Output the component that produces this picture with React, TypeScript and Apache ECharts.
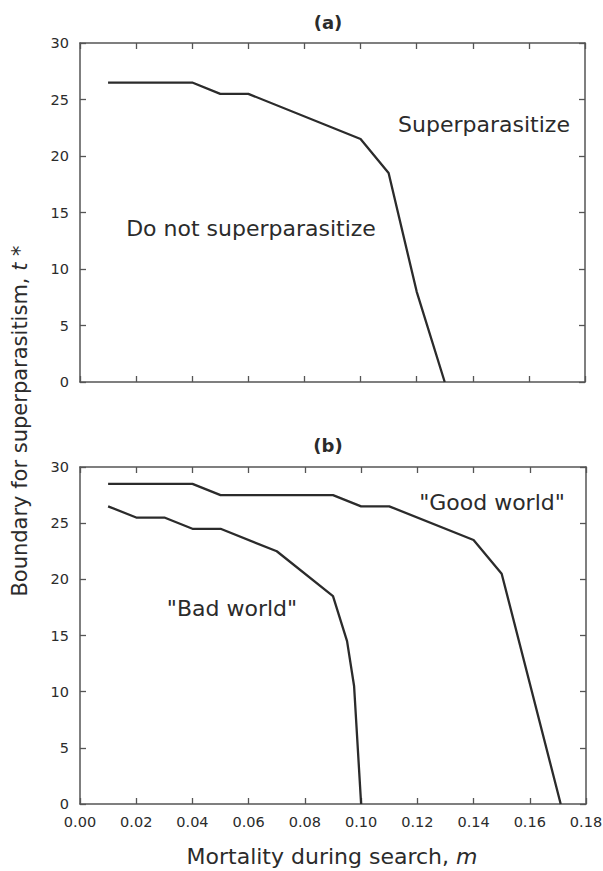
import React, { useEffect, useRef } from "react";
import * as echarts from "echarts";

// Panel (a)
const mortalityA = [0.01, 0.04, 0.05, 0.06, 0.10, 0.11, 0.12, 0.13];
const boundaryA = [26.5, 26.5, 25.5, 25.5, 21.5, 18.5, 8, 0];

// Panel (b)
const mortalityGood = [0.01, 0.04, 0.05, 0.09, 0.10, 0.11, 0.14, 0.15, 0.171];
const boundaryGood = [28.5, 28.5, 27.5, 27.5, 26.5, 26.5, 23.5, 20.5, 0];
const mortalityBad = [0.01, 0.02, 0.03, 0.04, 0.05, 0.07, 0.09, 0.095, 0.0975, 0.10];
const boundaryBad = [26.5, 25.5, 25.5, 24.5, 24.5, 22.5, 18.5, 14.5, 10.5, 0];

const xMin = 0;
const xMax = 0.18;
const xStep = 0.02;
const yMin = 0;
const yMax = 30;
const yStep = 5;

const panelTitles = ["(a)", "(b)"];
const xTitle = "Mortality during search, ";
const xTitleItalic = "m";
const yTitle = "Boundary for superparasitism, ";
const yTitleItalic = "t";
const yTitleTail = " *";
const annotationsA = ["Superparasitize", "Do not superparasitize"];
const annotationsB = ['"Good world"', '"Bad world"'];

const FONT = "DejaVu Sans";
const INK = "#2b2b2b";
const AXIS = "#555";

const zip = (xs: number[], ys: number[]) => xs.map((x, i) => [x, ys[i]]);

export default function App() {
  const ref = useRef<HTMLDivElement>(null);
  useEffect(() => {
    if (!ref.current) return;
    const chart = echarts.init(ref.current, null, { renderer: "svg" });
    const axisLine = () => ({ show: true, onZero: false, lineStyle: { color: AXIS, width: 1.5 } });
    const tick = () => ({ show: true, inside: false, length: -6, lineStyle: { color: AXIS, width: 1.3 } });
    const xAx = (grid: number, pos: string, labels: boolean) => ({
      gridIndex: grid,
      type: "value",
      position: pos,
      min: xMin,
      max: xMax,
      interval: xStep,
      axisLine: axisLine(),
      axisTick: tick(),
      splitLine: { show: false },
      axisLabel: {
        show: labels,
        margin: 10,
        color: INK,
        fontFamily: FONT,
        fontSize: 14.5,
        formatter: (v: number) => v.toFixed(2),
      },
    });
    const yAx = (grid: number, pos: string, labels: boolean) => ({
      gridIndex: grid,
      type: "value",
      position: pos,
      min: yMin,
      max: yMax,
      interval: yStep,
      axisLine: axisLine(),
      axisTick: tick(),
      splitLine: { show: false },
      axisLabel: {
        show: labels,
        margin: 11,
        color: INK,
        fontFamily: FONT,
        fontSize: 14.5,
      },
    });
    const annText = (text: string, x: number, y: number) => ({
      type: "text",
      x,
      y,
      style: {
        text,
        fill: INK,
        font: `22px "${FONT}"`,
        align: "center",
        verticalAlign: "middle",
      },
    });
    chart.setOption({
      animation: false,
      backgroundColor: "#fff",
      grid: [
        { left: 80, top: 43, width: 505, height: 339, containLabel: false, outerBoundsMode: "none" },
        { left: 80, top: 467, width: 506, height: 337, containLabel: false, outerBoundsMode: "none" },
      ],
      xAxis: [xAx(0, "bottom", false), xAx(0, "top", false), xAx(1, "bottom", true), xAx(1, "top", false)],
      yAxis: [yAx(0, "left", true), yAx(0, "right", false), yAx(1, "left", true), yAx(1, "right", false)],
      series: [
        {
          type: "line",
          xAxisIndex: 0,
          yAxisIndex: 0,
          data: zip(mortalityA, boundaryA),
          symbol: "none",
          lineStyle: { color: INK, width: 2.3 },
        },
        {
          type: "line",
          xAxisIndex: 2,
          yAxisIndex: 2,
          data: zip(mortalityGood, boundaryGood),
          symbol: "none",
          lineStyle: { color: INK, width: 2.3 },
        },
        {
          type: "line",
          xAxisIndex: 2,
          yAxisIndex: 2,
          data: zip(mortalityBad, boundaryBad),
          symbol: "none",
          lineStyle: { color: INK, width: 2.3 },
        },
      ],
      graphic: [
        {
          type: "text",
          x: 328,
          y: 22,
          style: { text: panelTitles[0], fill: INK, font: `bold 18px "${FONT}"`, align: "center", verticalAlign: "middle" },
        },
        {
          type: "text",
          x: 328,
          y: 445,
          style: { text: panelTitles[1], fill: INK, font: `bold 18px "${FONT}"`, align: "center", verticalAlign: "middle" },
        },
        annText(annotationsA[0], 484, 124),
        annText(annotationsA[1], 251, 228),
        annText(annotationsB[0], 492, 502),
        annText(annotationsB[1], 232, 608),
        {
          type: "text",
          x: 332,
          y: 856,
          style: {
            text: `${xTitle}{i|${xTitleItalic}}`,
            fill: INK,
            font: `22px "${FONT}"`,
            align: "center",
            verticalAlign: "middle",
            rich: { i: { fontFamily: FONT, fontSize: 22, fontStyle: "italic", fill: INK, color: INK } },
          },
        },
        {
          type: "text",
          x: 20,
          y: 421,
          rotation: Math.PI / 2,
          style: {
            text: `${yTitle}{i|${yTitleItalic}}${yTitleTail}`,
            fill: INK,
            font: `21px "${FONT}"`,
            align: "center",
            verticalAlign: "middle",
            rich: { i: { fontFamily: FONT, fontSize: 21, fontStyle: "italic", fill: INK, color: INK } },
          },
        },
      ],
    });
    return () => chart.dispose();
  }, []);
  return (
    <div
      ref={ref}
      style={{ position: "absolute", left: 0, top: 0, width: 603, height: 871, background: "#fff" }}
    />
  );
}
